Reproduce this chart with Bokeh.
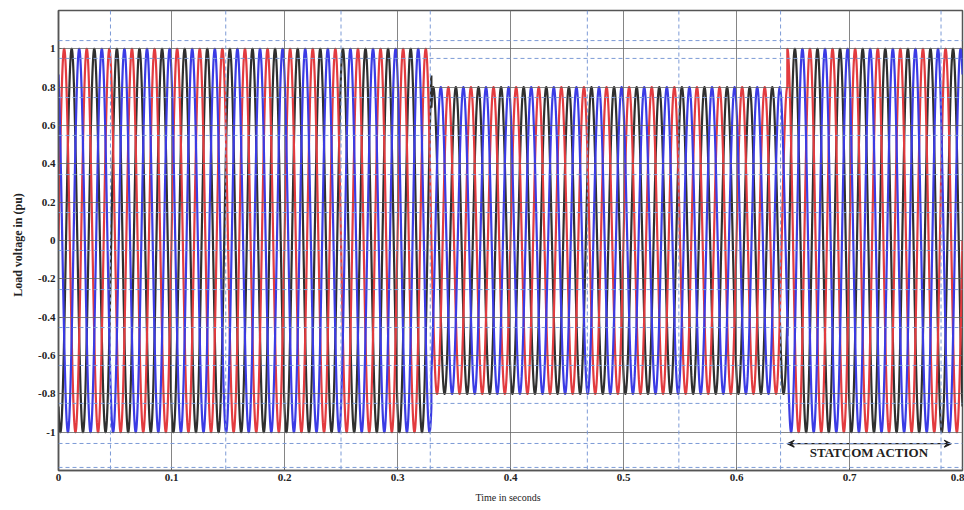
import numpy as np
from bokeh.plotting import figure
from bokeh.models import Span, Arrow, VeeHead, Label, CustomJSTickFormatter, FixedTicker
from bokeh.embed import file_html
from bokeh.resources import INLINE

# ---- data ----
segment_bounds = [0.0, 0.33, 0.645, 0.8]      # s: normal / sag / STATCOM action
segment_amplitude = [1.0, 0.8, 1.0]           # p.u. peak of load voltage
frequency_hz = 50.0
phase_names = ["Va", "Vb", "Vc"]
phase_shift_deg = [0.0, -120.0, 120.0]
x_ticks = [0.0, 0.1, 0.2, 0.3, 0.4, 0.5, 0.6, 0.7, 0.8]
y_ticks = [-1.0, -0.8, -0.6, -0.4, -0.2, 0.0, 0.2, 0.4, 0.6, 0.8, 1.0]
statcom_span = [0.645, 0.79]
statcom_text = "STATCOM ACTION"

# ---- styles ----
phase_colors = ["#e23b3f", "#2f2f2f", "#3b3be4"]
overlay_x = [0.046, 0.148, 0.250, 0.329, 0.468, 0.549, 0.639, 0.781]
overlay_y = [1.043, 0.950, 0.746, 0.548, 0.344, 0.146, -0.052, -0.256,
             -0.454, -0.652, -0.850, -1.059, -1.184]

t = np.linspace(segment_bounds[0], segment_bounds[-1], 24001)
env = np.empty_like(t)
for i in range(len(segment_amplitude)):
    m = (t >= segment_bounds[i]) & (t <= segment_bounds[i + 1])
    env[m] = segment_amplitude[i]

p = figure(width=964, height=510, output_backend="svg", toolbar_location=None,
           x_range=(0.0, 0.8), y_range=(-1.2, 1.2),
           min_border_left=58, min_border_right=2, min_border_top=10, min_border_bottom=40)
p.background_fill_color = "white"
p.border_fill_color = "white"
p.outline_line_color = "#555555"
p.outline_line_width = 1.5

for k in [1, 0, 2]:
    v = env * np.sin(2 * np.pi * frequency_hz * t + np.deg2rad(phase_shift_deg[k]))
    p.line(t, v, line_color=phase_colors[k], line_width=2.2)

p.xaxis.ticker = FixedTicker(ticks=x_ticks)
p.yaxis.ticker = FixedTicker(ticks=y_ticks)
fmt = CustomJSTickFormatter(code="return (Math.round(tick*10)/10).toString();")
p.xaxis.formatter = fmt
p.yaxis.formatter = fmt

for ax in (p.xaxis, p.yaxis):
    ax.axis_line_color = "#555555"
    ax.axis_line_width = 1.5
    ax.major_tick_in = 3
    ax.major_tick_out = 0
    ax.minor_tick_line_color = None
    ax.major_tick_line_color = "#555555"
    ax.major_label_text_font = "Liberation Serif"
    ax.major_label_text_font_style = "bold"
    ax.major_label_text_font_size = "11px"
    ax.major_label_text_color = "#222222"
    ax.axis_label_text_font = "Liberation Serif"
    ax.axis_label_text_color = "#222222"
p.xaxis.major_label_standoff = 3
p.yaxis.major_label_standoff = 3
p.xaxis.axis_label = "Time  in  seconds"
p.xaxis.axis_label_text_font_size = "10px"
p.xaxis.axis_label_text_font_style = "normal"
p.xaxis.axis_label_standoff = 8
p.yaxis.axis_label = "Load  voltage  in  (pu)"
p.yaxis.axis_label_text_font_size = "12px"
p.yaxis.axis_label_text_font_style = "bold"
p.yaxis.axis_label_standoff = 10

for g in (p.xgrid, p.ygrid):
    g.grid_line_color = "#666666"
    g.grid_line_alpha = 0.8
    g.grid_line_width = 1
    g.level = "overlay"

for xv in overlay_x:
    p.add_layout(Span(location=xv, dimension="height", line_color="#7d9bd6",
                      line_dash="4 3", line_width=1, level="overlay"))
for yv in overlay_y:
    p.add_layout(Span(location=yv, dimension="width", line_color="#7d9bd6",
                      line_dash="4 3", line_width=1, level="overlay"))

p.add_layout(Arrow(x_start=statcom_span[0], y_start=-1.06, x_end=statcom_span[1], y_end=-1.06,
                   line_color="#222222", line_width=1.2,
                   start=VeeHead(size=7, line_color="#222222", line_width=1.2),
                   end=VeeHead(size=7, line_color="#222222", line_width=1.2)))
p.add_layout(Label(x=(statcom_span[0] + statcom_span[1]) / 2, y=-1.065, text=statcom_text,
                   text_align="center", text_baseline="top", text_font="Liberation Serif",
                   text_font_size="13px", text_font_style="bold", text_color="#222222"))

open("out.html", "w").write(file_html(p, INLINE))
